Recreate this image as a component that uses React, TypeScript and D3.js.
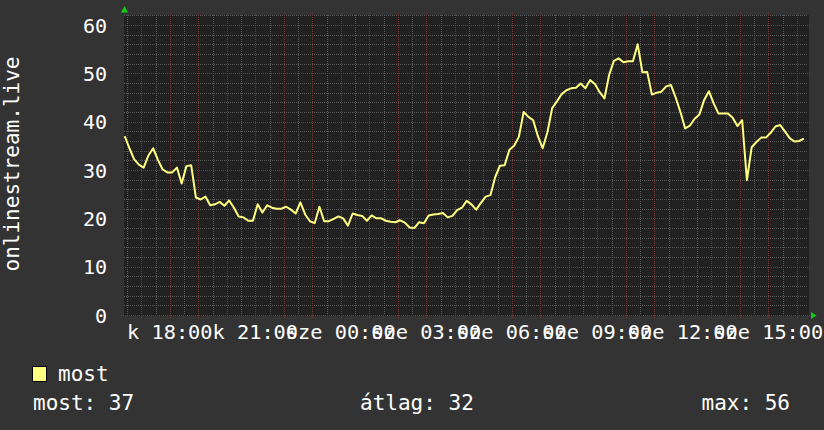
import React from 'react';
import * as d3 from 'd3';

// ---- data ----
const startTime = new Date(2024, 0, 2, 16, 25); // first sample (Tuesday)
const stepMinutes = 10;
const values = [
  37, 34.5, 32.2, 31.1, 30.5, 33.0, 34.5, 32.1, 30.1, 29.5,
  29.5, 30.5, 27.2, 30.8, 31.0, 24.3, 23.9, 24.5, 22.7, 22.9,
  23.4, 22.6, 23.7, 22.2, 20.4, 20.2, 19.5, 19.5, 22.9, 21.2,
  22.7, 22.2, 22.0, 22.0, 22.4, 21.8, 21.0, 23.3, 20.8, 19.4,
  19.0, 22.4, 19.4, 19.4, 19.9, 20.4, 20.0, 18.5, 21.0, 20.7,
  20.5, 19.5, 20.6, 20.0, 20.0, 19.5, 19.3, 19.2, 19.6, 19.1,
  18.1, 18.0, 19.2, 19.0, 20.6, 20.8, 20.9, 21.1, 20.2, 20.5,
  21.7, 22.2, 23.6, 22.9, 21.8, 23.2, 24.5, 24.8, 28.5, 30.9,
  31.0, 34.2, 35.0, 36.9, 42.0, 41.0, 40.3, 37.0, 34.5, 37.8,
  42.8, 44.2, 45.7, 46.5, 46.9, 47.0, 47.9, 46.9, 48.6, 47.8,
  46.1, 44.8, 49.7, 52.6, 53.1, 52.3, 52.5, 52.5, 56.0, 50.2,
  50.3, 45.6, 46.0, 46.2, 47.3, 47.6, 45.0, 42.0, 38.6, 39.2,
  40.6, 41.5, 44.5, 46.3, 43.8, 41.7, 41.7, 41.7, 40.8, 39.1,
  40.3, 27.9, 34.7, 35.8, 36.7, 36.7, 37.7, 39.0, 39.3, 38.0,
  36.6, 35.9, 36.0, 36.5,
];
const yMajorTicks = [0, 10, 20, 30, 40, 50, 60];
const yMinorStep = 2;
const yMax = 62;
const xLabelTimes = [
  new Date(2024, 0, 2, 18), new Date(2024, 0, 2, 21), new Date(2024, 0, 3, 0), new Date(2024, 0, 3, 3),
  new Date(2024, 0, 3, 6), new Date(2024, 0, 3, 9), new Date(2024, 0, 3, 12), new Date(2024, 0, 3, 15),
];
const xLabels = ['k 18:00', 'k 21:00', 'sze 00:00', 'sze 03:00', 'sze 06:00', 'sze 09:00', 'sze 12:00', 'sze 15:00'];
const yTitle = 'onlinestream.live';
const seriesName = 'most';
const statLabels = ['most: 37', 'átlag: 32', 'max: 56'];

// ---- style ----
const W = 824, H = 430;
const FONT = '"DejaVu Sans Mono", monospace';
const BG = '#333333';
const CANVAS = '#212121';
const MINOR = '#575757';
const MAJOR = '#7a3232';
const LINE = '#ffff80';
const ARROW = '#11cc11';

export default function App() {
  const t0 = new Date(2024, 0, 2, 16, 23, 36);
  const t1 = new Date(t0.getTime() + 24 * 3600 * 1000);
  const x = d3.scaleTime().domain([t0, t1]).range([124, 808]);
  const y = d3.scaleLinear().domain([0, 60]).range([315, 25]);
  const top = y(yMax);
  const bottom = y(0);

  const data = values.map((v, i) => ({ t: new Date(startTime.getTime() + i * stepMinutes * 60000), v }));
  const line = d3.line<{ t: Date; v: number }>().x(d => x(d.t)).y(d => y(d.v));

  const halfHours = d3.timeMinute.every(30)!.range(t0, t1).filter(d => d.getMinutes() !== 0);
  const hours = d3.timeHour.range(t0, t1);
  const yMinor = d3.range(yMinorStep, yMax + 0.01, yMinorStep).filter(v => v % 10 !== 0);

  const px = (v: number) => Math.round(v) + 0.5;

  return (
    <div style={{ position: 'fixed', left: 0, top: 0 }}>
      <svg width={W} height={H} style={{ display: 'block' }}>
        <rect x={0} y={0} width={W} height={H} fill={BG} />
        <rect x={124} y={Math.round(top)} width={685} height={Math.round(bottom) - Math.round(top) + 1} fill={CANVAS} />
        <g shapeRendering="crispEdges" strokeWidth={1} strokeDasharray="1,1">
          {yMinor.map(v => (
            <line key={'ym' + v} x1={124} x2={808} y1={px(y(v))} y2={px(y(v))} stroke={MINOR} />
          ))}
          {halfHours.map(d => (
            <line key={'xm' + d.getTime()} x1={px(x(d))} x2={px(x(d))} y1={top} y2={bottom} stroke={MINOR} />
          ))}
          {yMajorTicks.map(v => (
            <line key={'yM' + v} x1={121} x2={811} y1={px(y(v))} y2={px(y(v))} stroke={MAJOR} />
          ))}
          {hours.map(d => (
            <line key={'xM' + d.getTime()} x1={px(x(d))} x2={px(x(d))} y1={top - 2} y2={bottom + 3} stroke={MAJOR} />
          ))}
        </g>
        <path d={line(data) || ''} fill="none" stroke={LINE} strokeWidth={2} strokeLinejoin="round" />
        {/* arrows */}
        <path d={`M${124.5},${6} L${128},${12.5} L${121},${12.5} Z`} fill={ARROW} />
        <path d={`M${816.5},${315.5} L${811},${312} L${811},${319} Z`} fill={ARROW} />
        {/* y tick labels */}
        <g fontFamily={FONT} fontSize={20} fill="#ffffff" textAnchor="end">
          {yMajorTicks.map(v => (
            <text key={'yl' + v} x={107} y={y(v) + 7.5}>{v}</text>
          ))}
        </g>
        {/* x tick labels */}
        <g fontFamily={FONT} fontSize={20.3} fill="#ffffff" textAnchor="middle">
          {xLabelTimes.map((d, i) => (
            <text key={'xl' + i} x={x(d)} y={339}>{xLabels[i]}</text>
          ))}
        </g>
        {/* y title */}
        <text transform="translate(18.5,164) rotate(-90)" textAnchor="middle" fontFamily={FONT} fontSize={21} fill="#ffffff">{yTitle}</text>
        {/* legend */}
        <rect x={32.5} y={366.5} width={14} height={15} fill={LINE} stroke="#000000" strokeWidth={1} />
        <text x={58} y={381} fontFamily={FONT} fontSize={21} fill="#ffffff">{seriesName}</text>
        <text x={33} y={410} fontFamily={FONT} fontSize={21} fill="#ffffff">{statLabels[0]}</text>
        <text x={360} y={410} fontFamily={FONT} fontSize={21} fill="#ffffff">{statLabels[1]}</text>
        <text x={790} y={410} textAnchor="end" fontFamily={FONT} fontSize={21} fill="#ffffff">{statLabels[2]}</text>
      </svg>
    </div>
  );
}
